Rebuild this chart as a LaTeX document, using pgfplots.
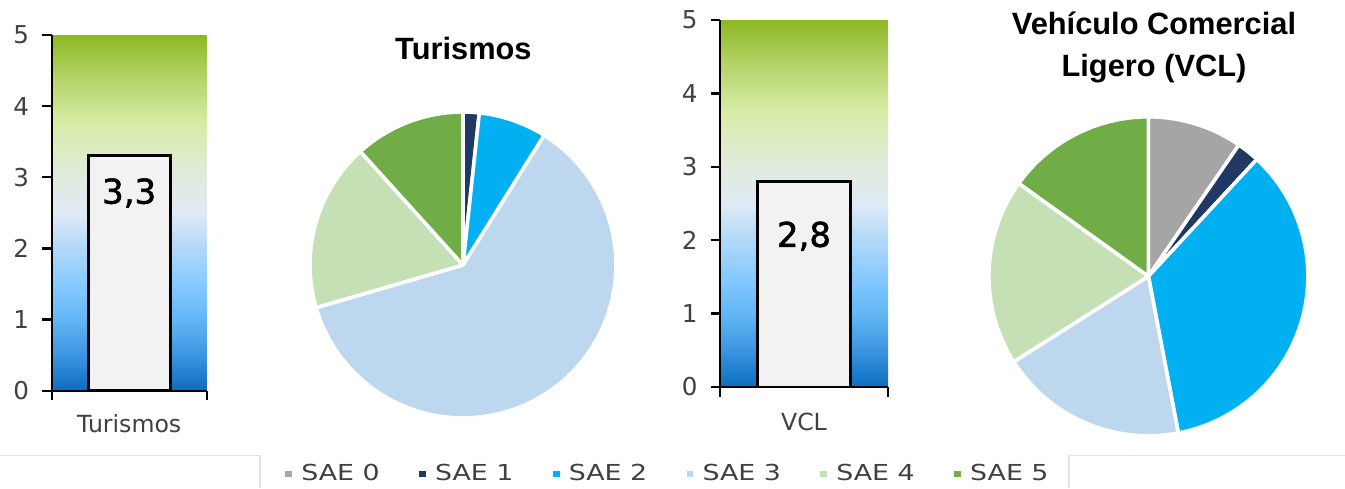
\documentclass[border=0pt]{standalone}
\usepackage{pgfplots}
\pgfplotsset{compat=1.18}
\usepackage{fontspec}
\setmainfont{DejaVu Sans}
\newfontfamily\titlefont{Liberation Sans}
\newfontfamily\legfont{DejaVu Sans}[FakeStretch=1.22]
\newfontfamily\valfont{DejaVu Sans}[FakeBold=1.6]

\definecolor{sae0}{HTML}{A5A5A5}
\definecolor{sae1}{HTML}{1F3864}
\definecolor{sae2}{HTML}{00B0F0}
\definecolor{sae3}{HTML}{BDD7EE}
\definecolor{sae4}{HTML}{C5E0B4}
\definecolor{sae5}{HTML}{70AD47}
\definecolor{barfill}{HTML}{F2F2F2}
\definecolor{tickgrey}{HTML}{404040}
\definecolor{framegrey}{HTML}{E3E3E3}

\definecolor{g0}{HTML}{0B6CC0}
\definecolor{g1}{HTML}{3C95E0}
\definecolor{g2}{HTML}{62B6F5}
\definecolor{g3}{HTML}{7FC6FF}
\definecolor{g4}{HTML}{B0D8F8}
\definecolor{g5}{HTML}{E0EAF6}
\definecolor{g6}{HTML}{E0EBDD}
\definecolor{g7}{HTML}{D8ECA8}
\definecolor{g8}{HTML}{B4D368}
\definecolor{g9}{HTML}{8CB823}

\pgfdeclareverticalshading{barbg}{100bp}{color(0bp)=(g0); color(25bp)=(g0); color(30bp)=(g1); color(35bp)=(g2); color(39bp)=(g3); color(45bp)=(g4); color(50bp)=(g5); color(55bp)=(g6); color(62.5bp)=(g7); color(69bp)=(g8); color(75bp)=(g9); color(100bp)=(g9)}

\pgfplotsset{
  baraxis/.style={
    scale only axis, clip=false,
    xmin=0, xmax=1, ymin=0, ymax=5,
    axis lines=left,
    axis line style={-, black, line width=1.2pt},
    tick style={black, line width=1.2pt},
    tick align=outside, major tick length=4.75pt,
    xtick={0,1}, xticklabels={,,},
    ytick={0,1,2,3,4,5}, yticklabels={0,1,2,3,4,5},
    yticklabel style={font=\fontsize{12.3}{14}\selectfont, text=tickgrey, xshift=-3pt},
    axis background/.style={shade, shading=barbg},
  },
  pieaxis/.style={
    scale only axis, clip=false, hide axis,
    xmin=-1, xmax=1, ymin=-1, ymax=1,
  },
  pieslice/.style={draw=white, line width=1.8pt, line join=round, samples=80},
}

\begin{document}
\begin{tikzpicture}
\useasboundingbox (0,0) rectangle (672.5pt,244pt);

% grey frame fragments
\draw[framegrey, line width=0.8pt] (0pt,16.2pt) -- (130pt,16.2pt) -- (130pt,0pt);
\draw[framegrey, line width=0.8pt] (534.5pt,0pt) -- (534.5pt,16.2pt) -- (672.5pt,16.2pt);

% ---- Bar chart Turismos
\begin{axis}[baraxis, at={(25.85pt,48.65pt)}, anchor=south west,
  width=77.5pt, height=177.85pt]
\addplot[ybar, bar width=40.85pt, fill=barfill, draw=black, line width=1.45pt]
  coordinates {(0.5,3.3)};
\node[anchor=base, font=\valfont\fontsize{17}{19}\selectfont] at (axis cs:0.5,2.63) {3,3};
\node[anchor=base, yshift=-20.65pt, font=\fontsize{11.8}{13}\selectfont, text=tickgrey] at (axis cs:0.5,0) {Turismos};
\end{axis}

% ---- Pie Turismos
\node[anchor=base, font=\titlefont\bfseries\fontsize{15.4}{18}\selectfont] at (231.7pt,214pt) {Turismos};
\begin{axis}[pieaxis, at={(231.5pt,111.5pt)}, anchor=center, width=153pt, height=153pt]
% shares (%): SAE0 0, SAE1 1.7, SAE2 7.2, SAE3 61.6, SAE4 17.8, SAE5 11.7
\addplot[pieslice, fill=sae1, domain={0*3.6}:{1.7*3.6}] ({sin(x)},{cos(x)}) -- (axis cs:0,0) -- cycle;
\addplot[pieslice, fill=sae2, domain={1.7*3.6}:{8.9*3.6}] ({sin(x)},{cos(x)}) -- (axis cs:0,0) -- cycle;
\addplot[pieslice, fill=sae3, domain={8.9*3.6}:{70.5*3.6}] ({sin(x)},{cos(x)}) -- (axis cs:0,0) -- cycle;
\addplot[pieslice, fill=sae4, domain={70.5*3.6}:{88.3*3.6}] ({sin(x)},{cos(x)}) -- (axis cs:0,0) -- cycle;
\addplot[pieslice, fill=sae5, domain={88.3*3.6}:{100*3.6}] ({sin(x)},{cos(x)}) -- (axis cs:0,0) -- cycle;
\end{axis}

% ---- Bar chart VCL
\begin{axis}[baraxis, at={(360pt,50.5pt)}, anchor=south west,
  width=84pt, height=183.5pt]
\addplot[ybar, bar width=46.15pt, fill=barfill, draw=black, line width=1.45pt]
  coordinates {(0.5,2.8)};
\node[anchor=base, font=\valfont\fontsize{17}{19}\selectfont] at (axis cs:0.5,1.91) {2,8};
\node[anchor=base, yshift=-21.5pt, font=\fontsize{11.8}{13}\selectfont, text=tickgrey] at (axis cs:0.5,0) {VCL};
\end{axis}

% ---- Pie VCL
\node[anchor=base, font=\titlefont\bfseries\fontsize{15.4}{18}\selectfont] at (577pt,226.5pt) {Vehículo Comercial};
\node[anchor=base, font=\titlefont\bfseries\fontsize{15.4}{18}\selectfont] at (577pt,205.65pt) {Ligero (VCL)};
\begin{axis}[pieaxis, at={(574.2pt,105.85pt)}, anchor=center, width=159.5pt, height=159.5pt]
% shares (%): SAE0 9.6, SAE1 2.3, SAE2 35.1, SAE3 19.0, SAE4 18.9, SAE5 15.1
\addplot[pieslice, fill=sae0, domain={0*3.6}:{9.6*3.6}] ({sin(x)},{cos(x)}) -- (axis cs:0,0) -- cycle;
\addplot[pieslice, fill=sae1, domain={9.6*3.6}:{11.9*3.6}] ({sin(x)},{cos(x)}) -- (axis cs:0,0) -- cycle;
\addplot[pieslice, fill=sae2, domain={11.9*3.6}:{47.0*3.6}] ({sin(x)},{cos(x)}) -- (axis cs:0,0) -- cycle;
\addplot[pieslice, fill=sae3, domain={47.0*3.6}:{66.0*3.6}] ({sin(x)},{cos(x)}) -- (axis cs:0,0) -- cycle;
\addplot[pieslice, fill=sae4, domain={66.0*3.6}:{84.9*3.6}] ({sin(x)},{cos(x)}) -- (axis cs:0,0) -- cycle;
\addplot[pieslice, fill=sae5, domain={84.9*3.6}:{100*3.6}] ({sin(x)},{cos(x)}) -- (axis cs:0,0) -- cycle;
\end{axis}

% ---- Legend
\begin{axis}[at={(0pt,0pt)}, anchor=south west, scale only axis, hide axis,
  width=672.5pt, height=244pt, xmin=0, xmax=1, ymin=0, ymax=1,
  legend columns=6,
  legend style={at={(axis description cs:0.2119,0.0287)}, anchor=west,
    draw=none, fill=none, inner sep=0pt,
    font=\legfont\fontsize{11}{12}\selectfont, text=tickgrey,
    nodes={inner sep=0pt},
    /tikz/every odd column/.append style={column sep=4.65pt},
    /tikz/every even column/.append style={column sep=19.7pt}}]
\addlegendimage{legend image code/.code={\fill[sae0] (0pt,-1.45pt) rectangle (2.9pt,1.45pt);}}\addlegendentry{SAE 0}
\addlegendimage{legend image code/.code={\fill[sae1] (0pt,-1.45pt) rectangle (2.9pt,1.45pt);}}\addlegendentry{SAE 1}
\addlegendimage{legend image code/.code={\fill[sae2] (0pt,-1.45pt) rectangle (2.9pt,1.45pt);}}\addlegendentry{SAE 2}
\addlegendimage{legend image code/.code={\fill[sae3] (0pt,-1.45pt) rectangle (2.9pt,1.45pt);}}\addlegendentry{SAE 3}
\addlegendimage{legend image code/.code={\fill[sae4] (0pt,-1.45pt) rectangle (2.9pt,1.45pt);}}\addlegendentry{SAE 4}
\addlegendimage{legend image code/.code={\fill[sae5] (0pt,-1.45pt) rectangle (2.9pt,1.45pt);}}\addlegendentry{SAE 5}
\end{axis}
\end{tikzpicture}
\end{document}
